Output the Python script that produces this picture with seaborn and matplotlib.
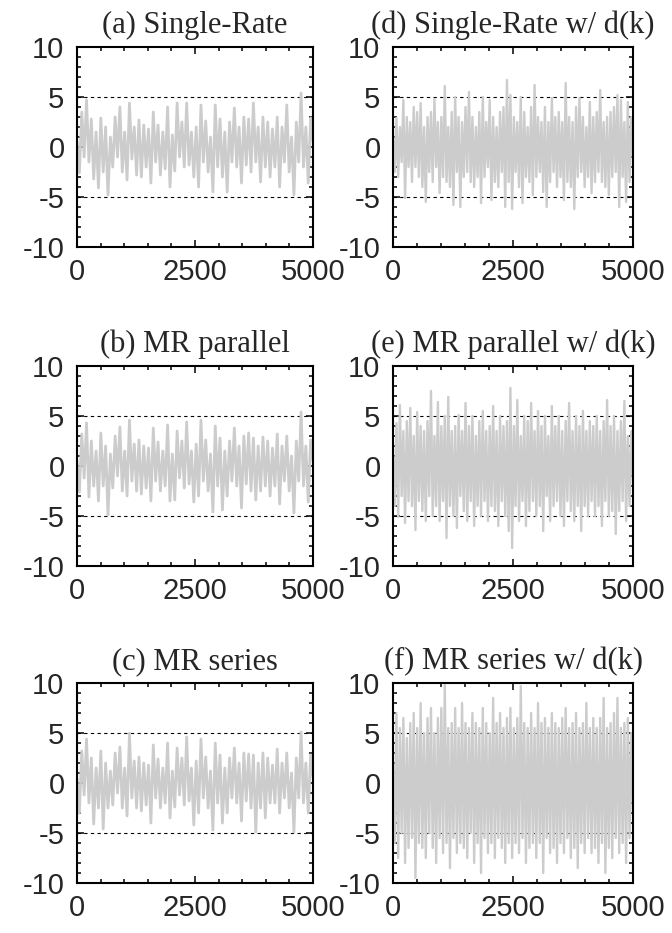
import numpy as np
import matplotlib
matplotlib.use("Agg")
import matplotlib.pyplot as plt
import seaborn as sns
from matplotlib.ticker import MultipleLocator

sns.set_style("ticks")
plt.rcParams["font.family"] = ["Liberation Sans", "DejaVu Sans"]

titles = ["(a) Single-Rate", "(b) MR parallel", "(c) MR series",
          "(d) Single-Rate w/ d(k)", "(e) MR parallel w/ d(k)", "(f) MR series w/ d(k)"]
x_ticks = [0, 2500, 5000]
y_ticks = [-10, -5, 0, 5, 10]
ref_levels = [-5, 5]

sig_a = [0.5, -2.6, 3.5, -1.0, 4.7, -1.5, 2.8, -3.2, 1.5, -4.1,
         2.9, -2.5, 2.0, -4.8, 1.0, -2.0, 3.0, -1.0, 4.0, -2.5,
         1.5, -3.3, 4.4, -1.2, 2.0, -2.8, 2.7, -3.0, 2.2, -2.0,
         1.8, -3.6, 3.5, -1.5, 2.2, -2.8, 1.5, -2.2, 4.0, -4.0,
         1.2, -2.4, 4.4, -1.0, 2.5, -2.0, 4.4, -1.8, 1.5, -3.0,
         2.0, -4.0, 4.2, -1.5, 2.6, -2.5, 1.0, -4.5, 4.2, -2.0,
         2.8, -3.0, 1.5, -4.5, 2.5, -1.5, 3.9, -2.0, 2.0, -3.6,
         3.0, -1.8, 2.8, -2.5, 4.4, -1.5, 2.0, -3.5, 3.0, -2.0,
         2.5, -3.0, 1.8, -2.0, 3.0, -4.0, 2.0, -1.5, 4.2, -2.5,
         1.0, -4.8, 2.5, -1.5, 5.4, -2.0, 2.0, -3.6, 2.9, 0.5]

sig_b = [0.5, -2.6, 3.2, -1.2, 4.3, -3.1, 2.5, -2.0, 1.5, -3.5,
         3.3, -2.0, 2.0, -4.9, 1.2, -2.2, 3.0, -1.0, 3.9, -2.5,
         1.5, -3.0, 4.6, -1.5, 2.2, -2.5, 2.6, -2.8, 2.0, -2.2,
         1.8, -3.5, 3.8, -1.5, 2.4, -2.5, 1.5, -2.0, 4.1, -3.5,
         1.2, -3.4, 3.5, -1.2, 2.5, -2.2, 4.4, -1.8, 1.5, -3.6,
         2.2, -3.0, 4.6, -1.5, 2.6, -2.5, 1.2, -4.6, 4.0, -2.0,
         2.8, -4.4, 1.5, -3.0, 2.5, -1.5, 3.8, -2.0, 2.0, -4.2,
         3.0, -1.8, 3.3, -2.5, 2.8, -3.4, 2.0, -2.5, 2.9, -2.0,
         2.5, -3.0, 1.8, -2.0, 3.2, -3.8, 2.0, -1.5, 3.0, -2.5,
         1.0, -4.7, 2.5, -1.5, 5.4, -2.0, 2.0, -3.6, 2.6, 0.5]

sig_c = [0.5, -3.0, 3.2, -1.2, 4.4, -2.0, 2.5, -4.1, 1.5, -2.5,
         3.2, -4.6, 2.0, -2.5, 1.2, -2.2, 3.0, -1.0, 3.6, -2.5,
         1.5, -3.3, 5.0, -1.5, 2.2, -2.5, 2.6, -2.8, 2.0, -2.2,
         1.8, -4.0, 3.8, -1.5, 2.4, -2.5, 1.5, -2.0, 4.0, -3.5,
         1.2, -2.4, 3.5, -1.2, 2.5, -2.2, 4.6, -1.8, 1.5, -4.2,
         2.2, -3.0, 4.4, -1.5, 2.6, -2.5, 1.2, -4.7, 4.0, -2.0,
         2.8, -4.0, 1.5, -3.0, 2.5, -1.5, 3.5, -2.0, 2.0, -3.8,
         3.0, -1.8, 2.9, -2.5, 2.8, -4.9, 2.0, -2.5, 3.0, -3.5,
         2.5, -2.0, 1.8, -2.0, 3.4, -3.0, 2.0, -1.5, 3.0, -2.5,
         1.0, -4.9, 2.5, -1.5, 5.1, -2.0, 2.0, -3.0, 2.8, 0.5]

sig_d = [1.0, -2.5, 2.9, -3.0, 2.0, -1.5, 4.7, -5.1, 3.0, -2.0,
         2.5, -3.5, 4.0, -2.0, 3.5, -3.0, 4.4, -4.0, 2.0, -5.5,
         3.0, -2.5, 3.5, -3.5, 4.8, -2.0, 2.5, -4.6, 3.0, -3.0,
         6.1, -3.5, 2.0, -4.0, 3.5, -5.8, 5.0, -2.5, 3.0, -6.0,
         2.5, -3.0, 4.0, -2.5, 5.5, -3.5, 3.0, -4.0, 2.0, -3.0,
         3.5, -5.6, 5.0, -3.0, 2.5, -2.0, 4.7, -5.3, 3.0, -3.5,
         2.0, -4.0, 3.5, -2.5, 4.0, -6.0, 6.7, -3.5, 5.2, -6.2,
         3.0, -2.5, 2.5, -4.0, 5.0, -5.6, 3.5, -3.0, 2.0, -3.5,
         4.0, -4.8, 6.2, -3.0, 3.0, -2.5, 2.5, -4.5, 4.0, -6.0,
         2.5, -3.5, 4.9, -2.5, 3.0, -4.0, 3.5, -3.0, 2.5, -5.3,
         6.4, -3.5, 3.0, -4.0, 2.5, -6.2, 4.0, -3.0, 4.9, -2.5,
         3.0, -4.0, 2.0, -3.0, 4.5, -4.6, 3.0, -3.5, 3.5, -2.5,
         5.7, -3.5, 2.5, -4.0, 3.0, -4.8, 3.5, -3.0, 4.0, -2.5,
         5.2, -6.0, 4.7, -3.0, 2.5, -5.5, 4.5, -3.5, 3.0, -1.0]

sig_e = [1.0, -4.0, 4.3, -5.1, 6.1, -3.0, 3.5, -5.7, 4.5, -3.5,
         5.8, -4.0, 3.0, -6.4, 5.4, -3.5, 4.0, -4.5, 3.5, -5.5,
         4.5, -3.0, 7.5, -5.0, 3.0, -4.0, 6.4, -5.5, 4.0, -3.5,
         5.0, -7.2, 6.9, -4.0, 3.5, -5.0, 4.0, -6.2, 5.1, -3.0,
         3.5, -4.5, 6.3, -5.5, 4.0, -3.5, 5.0, -6.0, 3.0, -4.0,
         4.5, -5.0, 5.5, -3.5, 3.5, -5.5, 4.0, -4.0, 6.0, -4.5,
         3.5, -6.0, 5.0, -3.5, 4.0, -5.0, 4.5, -6.5, 7.8, -8.2,
         4.0, -4.0, 6.6, -5.5, 3.0, -3.5, 5.0, -6.0, 4.5, -4.5,
         6.3, -3.5, 3.5, -5.0, 5.5, -4.0, 4.0, -6.5, 5.0, -3.0,
         3.0, -5.5, 6.0, -4.0, 4.0, -3.5, 5.0, -5.0, 3.5, -6.0,
         4.5, -3.5, 6.3, -4.5, 3.5, -5.5, 5.0, -4.0, 4.0, -6.5,
         5.5, -4.0, 3.5, -5.0, 4.5, -3.5, 4.0, -5.0, 5.0, -4.0,
         3.5, -6.0, 4.5, -3.5, 6.6, -5.0, 4.0, -4.5, 5.0, -6.8,
         3.5, -4.5, 4.5, -3.5, 6.5, -5.5, 3.0, -4.0, 3.5, -1.5]

sig_f = [2.0, -6.0, 7.0, -7.5, 5.5, -5.0, 6.5, -8.0, 4.5, -6.5,
         6.0, -5.5, 7.0, -9.5, 5.5, -6.0, 8.0, -6.5, 5.0, -7.5,
         6.5, -5.0, 7.5, -6.5, 5.0, -8.0, 6.5, -5.5, 7.5, -7.0,
         9.8, -6.0, 5.5, -8.5, 6.0, -5.5, 7.5, -7.0, 5.5, -6.0,
         8.0, -6.5, 6.0, -7.5, 5.5, -5.0, 7.0, -8.0, 6.0, -6.0,
         5.5, -9.0, 7.5, -5.5, 6.0, -7.0, 5.0, -6.0, 8.5, -7.5,
         6.0, -5.5, 7.0, -6.5, 5.5, -8.0, 6.5, -6.0, 7.5, -7.5,
         5.5, -6.0, 6.5, -7.0, 9.7, -5.5, 6.0, -8.0, 5.5, -6.5,
         7.0, -6.0, 5.5, -7.5, 8.0, -6.0, 6.0, -9.0, 6.5, -5.5,
         5.5, -7.0, 7.0, -6.5, 6.0, -8.0, 5.5, -6.0, 6.5, -7.0,
         7.5, -5.5, 5.5, -7.5, 6.0, -6.5, 7.0, -8.5, 5.5, -6.0,
         6.0, -7.0, 8.0, -5.5, 5.5, -7.0, 6.5, -6.5, 5.5, -8.0,
         6.5, -6.0, 8.5, -9.0, 5.5, -6.5, 6.0, -7.5, 7.0, -5.5,
         8.5, -7.0, 5.5, -6.0, 6.0, -8.0, 6.5, -5.5, 5.0, -3.0]

signals = [sig_a, sig_b, sig_c, sig_d, sig_e, sig_f]

W, H = 672, 933
fig = plt.figure(figsize=(W / 100, H / 100), dpi=100)

col_px = [(77, 236), (393, 240)]
row_px = [47, 366, 683]
ax_h = 200

for k, (title, sig) in enumerate(zip(titles, signals)):
    col, row = divmod(k, 3)
    left, width = col_px[col]
    top = row_px[row]
    ax = fig.add_axes([left / W, 1 - (top + ax_h) / H, width / W, ax_h / H])
    xs = np.linspace(0, 5000, len(sig))
    for lv in ref_levels:
        ax.axhline(lv, color="black", lw=0.8, ls=(0, (3, 3)), zorder=1)
    sns.lineplot(x=xs, y=sig, ax=ax, color="#cccccc",
                 lw=(2.0 if col == 0 else 1.7),
                 estimator=None, sort=False, zorder=2)
    ax.set_xlim(0, 5000)
    ax.set_ylim(-10, 10)
    ax.set_xticks(x_ticks)
    ax.set_yticks(y_ticks)
    ax.set_xticklabels([str(v) for v in x_ticks])
    ax.set_yticklabels([str(v) for v in y_ticks])
    ax.xaxis.set_minor_locator(MultipleLocator(500))
    ax.yaxis.set_minor_locator(MultipleLocator(1))
    ax.tick_params(which="both", direction="in", top=True, right=True,
                   width=1.1, color="black")
    ax.tick_params(which="major", length=5)
    ax.tick_params(which="minor", length=3)
    ax.tick_params(axis="x", which="major", labelsize=21, pad=8)
    ax.tick_params(axis="y", which="major", labelsize=21, pad=9)
    for sp in ax.spines.values():
        sp.set_visible(True)
        sp.set_linewidth(1.5)
        sp.set_color("black")
    ax.set_title(title, fontsize=22, family=["Liberation Serif", "DejaVu Serif"], pad=10)
    ax.set_xlabel("")
    ax.set_ylabel("")

fig.savefig("out.png", dpi=100)
